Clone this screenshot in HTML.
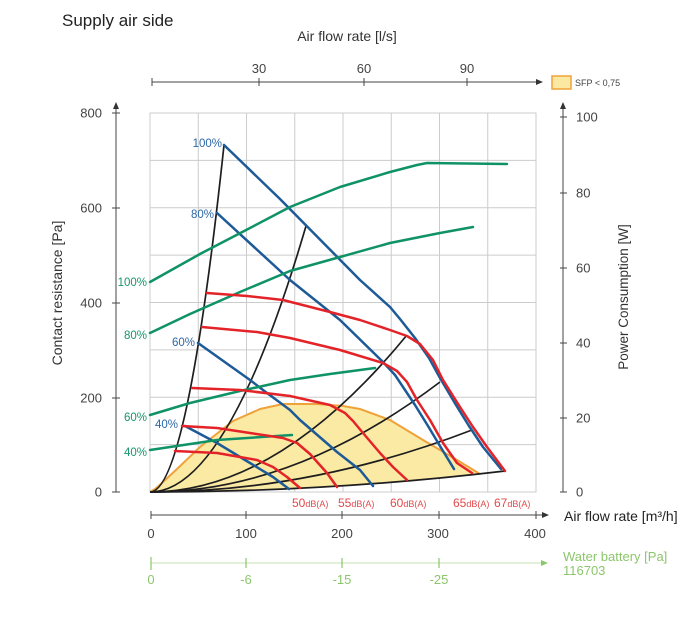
<!DOCTYPE html>
<html><head><meta charset="utf-8"><style>
html,body{margin:0;padding:0;background:#fff;}
svg{display:block;}
text{font-family:"Liberation Sans",sans-serif;}
</style></head><body>
<svg width="689" height="617" viewBox="0 0 689 617" xmlns="http://www.w3.org/2000/svg">
<rect width="689" height="617" fill="#fff"/>
<!-- title -->
<text x="62" y="26" font-size="17" fill="#222">Supply air side</text>
<text x="347" y="41" font-size="14" fill="#333" text-anchor="middle">Air flow rate [l/s]</text>

<!-- top axis -->
<line x1="152" y1="82" x2="538" y2="82" stroke="#444" stroke-width="1"/>
<polygon points="543,82 536,79 536,85" fill="#333"/>
<g stroke="#444" stroke-width="1">
<line x1="152" y1="78" x2="152" y2="86"/>
<line x1="259" y1="78" x2="259" y2="86"/>
<line x1="364" y1="78" x2="364" y2="86"/>
<line x1="467" y1="78" x2="467" y2="86"/>
</g>
<g font-size="13" fill="#444" text-anchor="middle">
<text x="259" y="73">30</text>
<text x="364" y="73">60</text>
<text x="467" y="73">90</text>
</g>
<rect x="552" y="76" width="19" height="13" fill="#fbe9a3" stroke="#f0a33a" stroke-width="1.5"/>
<text x="575" y="86" font-size="9" fill="#444">SFP &lt; 0,75</text>

<!-- grid -->
<g stroke="#cccccc" stroke-width="1" fill="none">
<rect x="150" y="113" width="386" height="379"/>
<line x1="198.25" y1="113" x2="198.25" y2="492"/>
<line x1="246.5" y1="113" x2="246.5" y2="492"/>
<line x1="294.75" y1="113" x2="294.75" y2="492"/>
<line x1="343" y1="113" x2="343" y2="492"/>
<line x1="391.25" y1="113" x2="391.25" y2="492"/>
<line x1="439.5" y1="113" x2="439.5" y2="492"/>
<line x1="487.75" y1="113" x2="487.75" y2="492"/>
<line x1="150" y1="160.4" x2="536" y2="160.4"/>
<line x1="150" y1="207.75" x2="536" y2="207.75"/>
<line x1="150" y1="255.1" x2="536" y2="255.1"/>
<line x1="150" y1="302.5" x2="536" y2="302.5"/>
<line x1="150" y1="349.9" x2="536" y2="349.9"/>
<line x1="150" y1="397.25" x2="536" y2="397.25"/>
<line x1="150" y1="444.6" x2="536" y2="444.6"/>
</g>

<!-- left axis -->
<line x1="116" y1="107" x2="116" y2="492" stroke="#444" stroke-width="1"/>
<polygon points="116,102 113,109 119,109" fill="#333"/>
<g stroke="#444" stroke-width="1">
<line x1="112" y1="113" x2="120" y2="113"/>
<line x1="112" y1="208" x2="120" y2="208"/>
<line x1="112" y1="303" x2="120" y2="303"/>
<line x1="112" y1="398" x2="120" y2="398"/>
<line x1="112" y1="492" x2="120" y2="492"/>
</g>
<g font-size="13" fill="#444" text-anchor="end">
<text x="102" y="117.5">800</text>
<text x="102" y="212.5">600</text>
<text x="102" y="307.5">400</text>
<text x="102" y="402.5">200</text>
<text x="102" y="496.5">0</text>
</g>
<text transform="translate(62,293) rotate(-90)" font-size="14" fill="#333" text-anchor="middle">Contact resistance [Pa]</text>

<!-- right axis -->
<line x1="563" y1="107" x2="563" y2="492" stroke="#444" stroke-width="1"/>
<polygon points="563,102 560,109 566,109" fill="#333"/>
<g stroke="#444" stroke-width="1">
<line x1="560" y1="117" x2="567" y2="117"/>
<line x1="560" y1="193" x2="567" y2="193"/>
<line x1="560" y1="268" x2="567" y2="268"/>
<line x1="560" y1="343" x2="567" y2="343"/>
<line x1="560" y1="418" x2="567" y2="418"/>
<line x1="560" y1="492" x2="567" y2="492"/>
</g>
<g font-size="13" fill="#444">
<text x="576" y="121.5">100</text>
<text x="576" y="197.5">80</text>
<text x="576" y="272.5">60</text>
<text x="576" y="347.5">40</text>
<text x="576" y="422.5">20</text>
<text x="576" y="496.5">0</text>
</g>
<text transform="translate(628,297) rotate(-90)" font-size="13.5" fill="#333" text-anchor="middle">Power Consumption [W]</text>

<!-- bottom axis -->
<line x1="151" y1="515" x2="544" y2="515" stroke="#444" stroke-width="1"/>
<polygon points="549,515 542,512 542,518" fill="#333"/>
<g stroke="#444" stroke-width="1">
<line x1="151" y1="511" x2="151" y2="519"/>
<line x1="246" y1="511" x2="246" y2="519"/>
<line x1="342" y1="511" x2="342" y2="519"/>
<line x1="439" y1="511" x2="439" y2="519"/>
<line x1="536" y1="511" x2="536" y2="519"/>
</g>
<g font-size="13" fill="#444" text-anchor="middle">
<text x="151" y="538">0</text>
<text x="246" y="538">100</text>
<text x="342" y="538">200</text>
<text x="438" y="538">300</text>
<text x="535" y="538">400</text>
</g>
<text x="564" y="521" font-size="14" fill="#222">Air flow rate [m³/h]</text>

<!-- water battery axis -->
<line x1="151" y1="563" x2="543" y2="563" stroke="#c5e0b0" stroke-width="1"/>
<polygon points="548,563 541,560 541,566" fill="#8cc66b"/>
<g stroke="#8cc66b" stroke-width="1.2">
<line x1="151" y1="557" x2="151" y2="570"/>
<line x1="246" y1="558" x2="246" y2="568"/>
<line x1="342" y1="558" x2="342" y2="568"/>
<line x1="439" y1="558" x2="439" y2="568"/>
</g>
<g font-size="13" fill="#8cc66b" text-anchor="middle">
<text x="151" y="584">0</text>
<text x="246" y="584">-6</text>
<text x="342" y="584">-15</text>
<text x="439" y="584">-25</text>
</g>
<text x="563" y="561" font-size="13" fill="#8cc66b">Water battery [Pa]</text>
<text x="563" y="575" font-size="13" fill="#8cc66b">116703</text>

<!-- SFP area -->
<path d="M150,492 L155,489 L163,482 L177,469 L200,447 L233,421 L260,409 L283,404 L317,404 L343,406 L360,409 L390,420 L423,440 L457,460 L480,474 Q315,492 150,492 Z" fill="#fbeaa4" stroke="none"/>
<polyline points="150,492 155,489 163,482 177,469 200,447 233,421 260,409 283,404 317,404 343,406 360,409 390,420 423,440 457,460 480,474" fill="none" stroke="#f0a23a" stroke-width="2" stroke-linejoin="round"/>

<!-- system curves (black) -->
<g fill="none" stroke="#1e1e1e" stroke-width="1.7">
<path d="M150,492 Q187,492 224,145"/>
<path d="M150,492 Q228,492 306,226"/>
<path d="M150,492 Q278.5,492 407,335"/>
<path d="M150,492 Q295,492 440,382"/>
<path d="M150,492 Q311,492 472,430"/>
<path d="M150,492 Q327.5,492 505,471"/>
</g>

<!-- fan speed curves (blue) -->
<g fill="none" stroke="#1d5a98" stroke-width="2.5" stroke-linejoin="round" stroke-linecap="round">
<polyline points="224,145 280,199 360,280 390,307 400,319 415,338 429,358 440,378 456,405 469,426 483,447 501,469"/>
<polyline points="217,213 290,280 340,320 383,362 395,375 405,390 415,405 428,426 440,446 454,469"/>
<polyline points="198,343 250,380 263,390 290,410 300,420 337,452 360,470 373,486"/>
<polyline points="185,426 217,443 250,463 273,477 289,489"/>
</g>

<!-- power curves (green) -->
<g fill="none" stroke="#0e9266" stroke-width="2.5" stroke-linejoin="round" stroke-linecap="round">
<polyline points="150,282 200,254 250,228 290,207 340,187 390,172 417,165 427,163 507,164"/>
<polyline points="150,333 190,314 240,292 290,271 340,257 390,243 440,233 473,227"/>
<polyline points="150,415 190,403 240,391 290,380 330,374 375,368"/>
<polyline points="150,450 217,440 292,435"/>
</g>

<!-- noise curves (red) -->
<g fill="none" stroke="#e42328" stroke-width="2.5" stroke-linejoin="round" stroke-linecap="round">
<polyline points="207,293 247,296 283,300 330,312 360,320 390,330 407,336 420,344 433,360 443,380 460,407 473,427 487,447 505,471"/>
<polyline points="202,327 257,332 290,338 340,350 383,363 397,371 407,382 417,400 430,420 443,443 457,463 472,473"/>
<polyline points="192,388 240,390 290,396 330,405 345,413 353,421 363,433 380,453 393,467 407,480"/>
<polyline points="182,426 217,428 250,433 283,438 297,443 310,454 327,473 337,487"/>
<polyline points="175,451 217,453 257,460 273,467 287,477 300,488"/>
</g>

<!-- blue labels -->
<g font-size="11.5" fill="#2c67a6" text-anchor="end">
<text x="222" y="147">100%</text>
<text x="214" y="218">80%</text>
<text x="195" y="346">60%</text>
<text x="178" y="428">40%</text>
</g>
<!-- green labels -->
<g font-size="11.5" fill="#16966c" text-anchor="end">
<text x="147" y="286">100%</text>
<text x="147" y="339">80%</text>
<text x="147" y="421">60%</text>
<text x="147" y="456">40%</text>
</g>
<!-- dB labels -->
<g fill="#e0494c">
<text x="292" y="507" font-size="12">50<tspan font-size="9">dB(A)</tspan></text>
<text x="338" y="507" font-size="12">55<tspan font-size="9">dB(A)</tspan></text>
<text x="390" y="507" font-size="12">60<tspan font-size="9">dB(A)</tspan></text>
<text x="453" y="507" font-size="12">65<tspan font-size="9">dB(A)</tspan></text>
<text x="494" y="507" font-size="12">67<tspan font-size="9">dB(A)</tspan></text>
</g>
</svg>
</body></html>
